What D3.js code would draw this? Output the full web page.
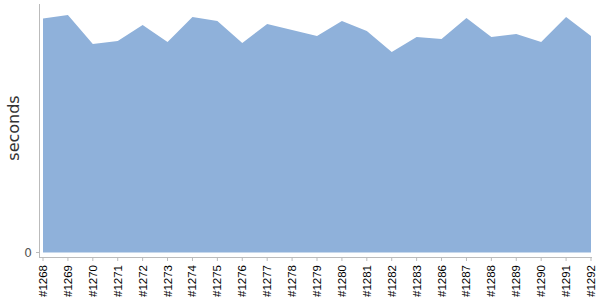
<!DOCTYPE html>
<html><head><meta charset="utf-8">
<script src="https://cdn.jsdelivr.net/npm/d3@7"></script>
<style>body{margin:0;background:#fff;}svg{display:block;font-family:"DejaVu Sans",sans-serif;}</style>
</head><body>
<svg id="c" width="600" height="300"></svg>
<script>
const builds = ["#1268","#1269","#1270","#1271","#1272","#1273","#1274","#1275","#1276","#1277","#1278","#1279","#1280","#1281","#1282","#1283","#1286","#1287","#1288","#1289","#1290","#1291","#1292"];
const seconds = [234.5,238,209,212,228,211,236,232,210,229,223,217,232,222,201,216,214,235,216,219,211,236,217];
const yTicks = [0];
const yMax = 249;

const svg = d3.select("#c");
const x = d3.scalePoint().domain(builds).range([43, 591]);
const y = d3.scaleLinear().domain([0, yMax]).range([252.5, 4]);

const data = builds.map((b,i)=>({b, v: seconds[i]}));
svg.append("path").datum(data)
  .attr("fill","#8fb1da")
  .attr("d", d3.area().x(d=>x(d.b)).y0(y(0)).y1(d=>y(d.v)));

// y axis
const ya = svg.append("g");
ya.append("line").attr("x1",39.5).attr("x2",39.5).attr("y1",4).attr("y2",258).attr("stroke","#bbb");
yTicks.forEach(t=>{
  ya.append("line").attr("x1",36).attr("x2",39.5).attr("y1",y(t)).attr("y2",y(t)).attr("stroke","#bbb");
  ya.append("text").attr("x",32).attr("y",y(t)).attr("dy","0.35em").attr("text-anchor","end")
    .attr("font-size",12).attr("fill","#555").text(t);
});
svg.append("text").attr("transform","translate(19,128) rotate(-90)").attr("text-anchor","middle")
  .attr("font-size",16).attr("fill","#333").text("seconds");

// x axis
const xa = svg.append("g");
xa.append("line").attr("x1",39.5).attr("x2",592).attr("y1",257.5).attr("y2",257.5).attr("stroke","#bbb");
builds.forEach(b=>{
  xa.append("line").attr("x1",x(b)).attr("x2",x(b)).attr("y1",257.5).attr("y2",261).attr("stroke","#bbb");
  xa.append("text").attr("transform",`translate(${x(b)+4},265) rotate(-90)`).attr("text-anchor","end")
    .attr("font-family","'Liberation Sans',Arial,sans-serif")
    .attr("font-size",11.5).attr("fill","#000").text(b);
});
</script>
</body></html>
